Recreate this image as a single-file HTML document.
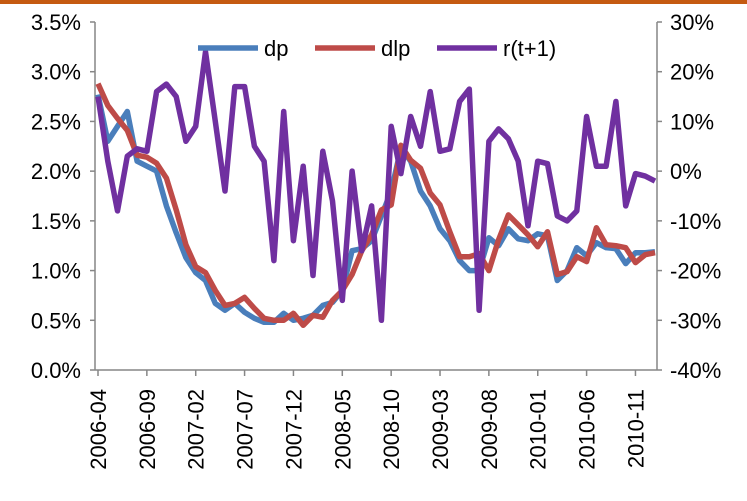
<!DOCTYPE html>
<html><head><meta charset="utf-8"><style>
body{margin:0;background:#fff;}
svg{display:block;font-family:"Liberation Sans",sans-serif;}
</style></head><body>
<svg id="chart" width="747" height="501">
<rect x="0" y="0" width="747" height="4" fill="#c55a11"/>
<g id="axes"></g>
<g id="series"></g>
<g id="legend"></g>
</svg>
<script>
const categories = (function(){const a=[];let y=2006,m=4;for(let i=0;i<58;i++){a.push(y+'-'+String(m).padStart(2,'0'));m++;if(m>12){m=1;y++;}}return a;})();
const dpValues = [2.77,2.3,2.45,2.6,2.1,2.05,2.0,1.65,1.38,1.13,0.98,0.9,0.67,0.6,0.67,0.58,0.52,0.48,0.48,0.57,0.5,0.52,0.55,0.65,0.68,0.8,1.2,1.22,1.3,1.55,1.8,2.23,2.1,1.8,1.65,1.42,1.3,1.1,1.0,1.0,1.33,1.25,1.42,1.32,1.3,1.37,1.35,0.9,1.0,1.23,1.15,1.28,1.23,1.22,1.07,1.18,1.18,1.19];
const dlpValues = [2.88,2.66,2.53,2.41,2.16,2.14,2.08,1.93,1.61,1.26,1.04,0.98,0.8,0.65,0.67,0.73,0.62,0.52,0.5,0.5,0.57,0.45,0.55,0.53,0.7,0.8,0.96,1.2,1.36,1.61,1.66,2.26,2.11,2.03,1.78,1.66,1.39,1.14,1.14,1.17,1.0,1.31,1.56,1.46,1.36,1.24,1.39,0.96,0.99,1.14,1.09,1.43,1.26,1.25,1.23,1.08,1.16,1.18];
const rValues = [15,2,-8,3,4.5,4,16,17.5,15,6,9,24,10,-4,17,17,5,2,-18,12,-14,1,-21,4,-6,-26,0,-16,-7,-30,9,-0.5,11,5,16,4,4.5,14,16.5,-28,6,8.5,6.5,2,-11,2,1.5,-9,-10,-8,11,1,1,14,-7,-0.5,-1,-2];
const leftTicks = ['0.0%','0.5%','1.0%','1.5%','2.0%','2.5%','3.0%','3.5%'];
const rightTicks = ['-40%','-30%','-20%','-10%','0%','10%','20%','30%'];
const NS='http://www.w3.org/2000/svg';
const X0=98, X1=655, YB=370, YT=22;
function xScale(i){return X0+(X1-X0)*i/(categories.length-1);}
function yLeft(v){return YB-(YB-YT)*v/3.5;}
function yRight(v){return YB-(YB-YT)*(v+40)/70;}
function el(tag,attrs,parent){const e=document.createElementNS(NS,tag);for(const k in attrs)e.setAttribute(k,attrs[k]);parent.appendChild(e);return e;}
const axes=document.getElementById('axes');
let a=el('line',{x1:95,y1:YT,x2:95,y2:YB,stroke:'#868686','stroke-width':1.5},axes);


a=el('line',{x1:657,y1:YT,x2:657,y2:YB,stroke:'#868686','stroke-width':1.5},axes);


a=el('line',{x1:95,y1:YB,x2:657,y2:YB,stroke:'#868686','stroke-width':1.5},axes);


leftTicks.forEach((t,k)=>{const y=YB-(YB-YT)*k/7;
 el('line',{x1:90,y1:y,x2:95,y2:y,stroke:'#868686','stroke-width':1.5},axes);
 const tx=el('text',{x:81,y:y+8,'text-anchor':'end','font-size':22,fill:'#000'},axes);tx.textContent=t;
 
 });
rightTicks.forEach((t,k)=>{const y=YB-(YB-YT)*k/7;
 el('line',{x1:657,y1:y,x2:662,y2:y,stroke:'#868686','stroke-width':1.5},axes);
 const tx=el('text',{x:670,y:y+8,'text-anchor':'start','font-size':22,fill:'#000'},axes);tx.textContent=t;
 
 });
for(let i=0;i<categories.length;i+=5){const x=xScale(i);
 el('line',{x1:x,y1:YB,x2:x,y2:YB+6,stroke:'#868686','stroke-width':1.5},axes);
 const tx=el('text',{x:0,y:0,'text-anchor':'end','font-size':22,fill:'#000',transform:`translate(${x+8},${YB+19}) rotate(-90)`},axes);tx.textContent=categories[i];
 
 }
const ser=document.getElementById('series');
function line(vals,f,color,name){const d=vals.map((v,i)=>(i?'L':'M')+xScale(i).toFixed(1)+','+f(v).toFixed(1)).join('');
 const p=el('path',{d:d,fill:'none',stroke:color,'stroke-width':5.5,'stroke-linejoin':'round'},ser);
 
 }
line(dpValues,yLeft,'#4a7ebb','dp-line');
line(dlpValues,yLeft,'#be4b48','dlp-line');
line(rValues,yRight,'#7030a0','r-line');
const lg=document.getElementById('legend');
[['dp','#4a7ebb',198],['dlp','#be4b48',315],['r(t+1)','#7030a0',437]].forEach(([n,c,x])=>{
 const g=el('g',{},lg);
 
 
 el('line',{x1:x,y1:48,x2:x+60,y2:48,stroke:c,'stroke-width':5.5},g);
 const t=el('text',{x:x+66,y:56,'font-size':22,fill:'#000'},g);t.textContent=n;});
</script>
</body></html>
